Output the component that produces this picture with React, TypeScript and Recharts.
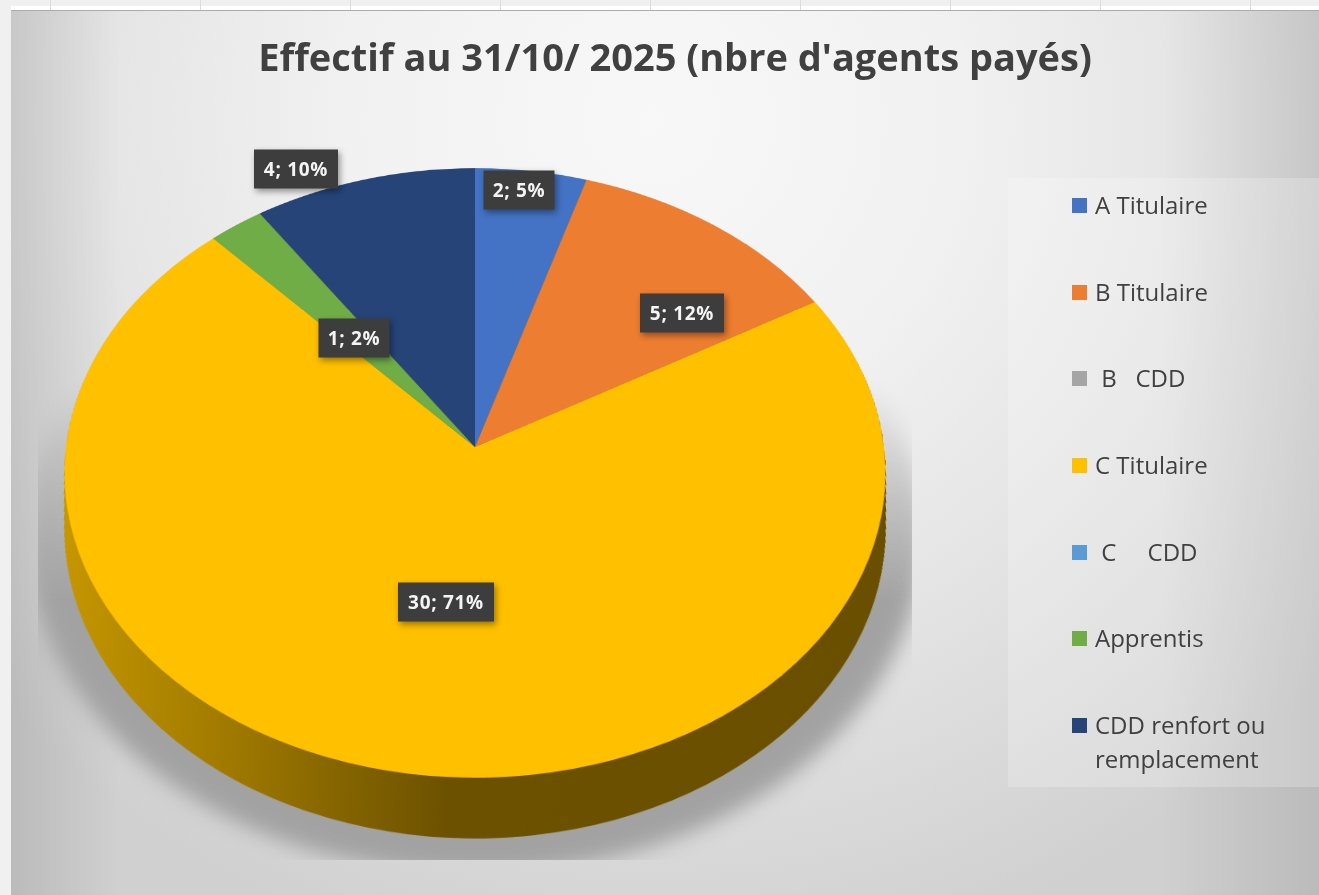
import { PieChart, Pie, Cell, Legend } from 'recharts'

const CATEGORIES = ['A Titulaire', 'B Titulaire', ' B   CDD', 'C Titulaire', ' C     CDD', 'Apprentis', 'CDD renfort ou remplacement']
const VALUES = [2, 5, 0, 30, 0, 1, 4]
const COLORS = ['#4472c4', '#ed7d31', '#a5a5a5', '#ffc000', '#5b9bd5', '#70ad47', '#264478']

// label centres relative to the pie apex, same order as CATEGORIES
const LABEL_OFFSETS = [[44, -257], [207, -134], null, [-29, 155], null, [-121, -109], [-179, -278]]
const LABEL_WIDTHS = [71, 84, 0, 96, 0, 71, 84]

const chartData = CATEGORIES.map((name, i) => ({ name, value: VALUES[i] }))

const WIDTH = 1319
const HEIGHT = 895
const CX = 475
const CY = 447
const RADIUS = 409
const DEPTH_LAYERS = Array.from({ length: 74 }, (_, i) => 74 - i)
const TILT = `perspective(3231px) rotateX(42.3deg)`
const FONT = '"Open Sans", sans-serif'

const layer = {
  position: 'absolute' as const,
  left: 0,
  top: 0,
  transform: TILT,
  transformOrigin: `${CX}px ${CY}px`,
}

function renderLabel(props: any) {
  const { cx, cy, index, value, percent } = props
  const offset = LABEL_OFFSETS[index]
  if (!value || !offset) return null
  const w = LABEL_WIDTHS[index]
  const x = cx + offset[0]
  const y = cy + offset[1]
  return (
    <g key={index} style={{ filter: 'drop-shadow(2px 3px 3px rgba(0,0,0,0.4))' }}>
      <rect x={x - w / 2} y={y - 19.5} width={w} height={39} fill="#3d3d3d" />
      <text x={x} y={y + 7} textAnchor="middle" fill="#f4f4f4" fontFamily={FONT} fontWeight={700} fontSize={19} letterSpacing={0.7}>
        {`${value}; ${Math.round(percent * 100)}%`}
      </text>
    </g>
  )
}

function renderLegend(props: any) {
  const { payload } = props
  return (
    <div style={{ paddingTop: 10, fontFamily: FONT, fontSize: 24, lineHeight: '34px', color: '#404040' }}>
      {(payload || []).map((entry: any) => (
        <div key={entry.value} style={{ height: 86.7, position: 'relative', paddingLeft: 87, width: 190, whiteSpace: 'pre-wrap' }}>
          <span style={{ position: 'absolute', left: 64, top: 10, width: 15, height: 15, background: entry.color }} />
          {entry.value}
        </div>
      ))}
    </div>
  )
}

export default function App() {
  return (
    <div style={{ position: 'absolute', left: 0, top: 0, width: WIDTH, height: HEIGHT, overflow: 'hidden', background: '#f0f0f0' }}>
      {/* window strip above the chart area */}
      <div style={{ position: 'absolute', left: 11, top: 6, right: 0, height: 4, background: '#fff' }} />
      <div
        style={{
          position: 'absolute',
          left: 50,
          top: 0,
          right: 0,
          height: 10,
          background: 'repeating-linear-gradient(to right, #dcdcdc 0, #dcdcdc 1px, transparent 1px, transparent 150px)',
        }}
      />
      <div style={{ position: 'absolute', left: 11, top: 10, right: 0, height: 1, background: '#ababab' }} />
      <div
        style={{
          position: 'absolute',
          left: 11,
          top: 11,
          right: 0,
          bottom: 0,
          background:
            'linear-gradient(to right, rgba(0,0,0,0.1), rgba(0,0,0,0) 110px), linear-gradient(to left, rgba(0,0,0,0.1), rgba(0,0,0,0) 160px), radial-gradient(ellipse 880px 860px at 640px 110px, #f8f8f8 0%, #f1f1f1 35%, #e5e5e5 62%, #d0d0d0 100%)',
        }}
      />

      {/* soft shadow under the pie, cut off by a box like in the original */}
      <div
        style={{
          position: 'absolute',
          left: 38,
          top: 380,
          width: 874,
          height: 480,
          overflow: 'hidden',
          WebkitMaskImage: 'linear-gradient(to bottom, transparent 0, #000 220px)',
          maskImage: 'linear-gradient(to bottom, transparent 0, #000 220px)',
        }}
      >
        <div style={{ position: 'absolute', left: -38, top: -380, filter: 'blur(10px)' }}>
          <div style={{ ...layer, position: 'relative' }}>
            <PieChart width={WIDTH} height={1040} margin={{ top: 0, right: 0, bottom: 0, left: 0 }}>
              <Pie
                data={chartData}
                dataKey="value"
                nameKey="name"
                cx={CX}
                cy={CY + 76}
                outerRadius={RADIUS + 30}
                startAngle={90}
                endAngle={-270}
                fill="#a2a2a2"
                stroke="none"
                isAnimationActive={false}
              />
            </PieChart>
          </div>
        </div>
      </div>

      {/* the tilted pie: stacked discs for the wall, then the coloured top */}
      <div style={layer}>
        <PieChart width={WIDTH} height={1040} margin={{ top: 0, right: 0, bottom: 0, left: 0 }}>
          <defs>
            <linearGradient id="wall" gradientUnits="userSpaceOnUse" x1={CX - RADIUS} y1={0} x2={CX + RADIUS} y2={0}>
              <stop offset="0%" stopColor="#c89800" />
              <stop offset="18%" stopColor="#a88000" />
              <stop offset="47%" stopColor="#6c5100" />
              <stop offset="100%" stopColor="#6a4f00" />
            </linearGradient>
          </defs>
          {DEPTH_LAYERS.map((d) => (
            <Pie
              key={d}
              data={chartData}
              dataKey="value"
              nameKey="name"
              cx={CX}
              cy={CY + d}
              outerRadius={RADIUS - d * 0.085}
              startAngle={90}
              endAngle={-270}
              fill="url(#wall)"
              stroke="none"
              legendType="none"
              isAnimationActive={false}
            />
          ))}
          <Pie
            data={chartData}
            dataKey="value"
            nameKey="name"
            cx={CX}
            cy={CY}
            outerRadius={RADIUS}
            startAngle={90}
            endAngle={-270}
            stroke="none"
            legendType="none"
            isAnimationActive={false}
          >
            {chartData.map((_, i) => (
              <Cell key={i} fill={COLORS[i]} />
            ))}
          </Pie>
        </PieChart>
      </div>

      {/* flat overlay: labels, legend, title */}
      <div style={{ position: 'absolute', left: 0, top: 0 }}>
        <PieChart width={WIDTH} height={HEIGHT} margin={{ top: 0, right: 0, bottom: 0, left: 0 }}>
          <Pie
            data={chartData}
            dataKey="value"
            nameKey="name"
            cx={CX}
            cy={CY}
            outerRadius={RADIUS}
            startAngle={90}
            endAngle={-270}
            fillOpacity={0}
            stroke="none"
            legendType="square"
            label={renderLabel}
            labelLine={false}
            isAnimationActive={false}
          >
            {chartData.map((_, i) => (
              <Cell key={i} fill={COLORS[i]} />
            ))}
          </Pie>
          <Legend
            content={renderLegend}
            itemSorter={null}
            wrapperStyle={{ left: 1008, top: 178, bottom: 'auto', width: 311, height: 609, background: 'rgba(255,255,255,0.22)' }}
          />
          <text x={675} y={71} textAnchor="middle" fill="#404040" fontFamily={FONT} fontWeight={700} fontSize={38}>
            {"Effectif au 31/10/ 2025 (nbre d'agents payés)"}
          </text>
        </PieChart>
      </div>
    </div>
  )
}
